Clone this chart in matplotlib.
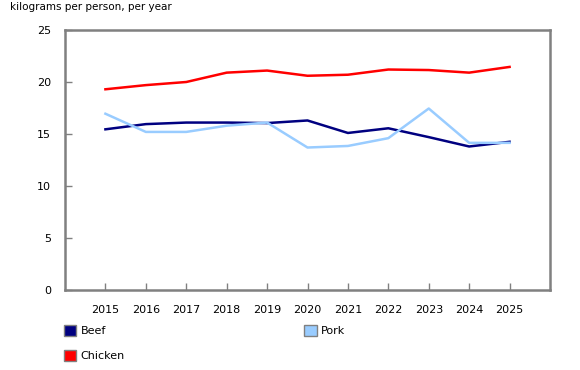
import matplotlib
matplotlib.use("Agg")
import matplotlib.pyplot as plt
from matplotlib.patches import Patch

years = [2015, 2016, 2017, 2018, 2019, 2020, 2021, 2022, 2023, 2024, 2025]
beef = [15.45, 15.95, 16.1, 16.1, 16.05, 16.3, 15.1, 15.55, 14.7, 13.8, 14.25]
pork = [16.95, 15.2, 15.2, 15.8, 16.1, 13.7, 13.85, 14.6, 17.45, 14.15, 14.15]
chicken = [19.3, 19.7, 20.0, 20.9, 21.1, 20.6, 20.7, 21.2, 21.15, 20.9, 21.45]
yticks = [0, 5, 10, 15, 20, 25]
ylabel = "kilograms per person, per year"

c_beef = "#000080"
c_pork = "#99ccff"
c_chicken = "#ff0000"
grey = "#808080"

plt.rcParams['font.family'] = ['DejaVu Sans']
fig = plt.figure(figsize=(5.8, 3.7), dpi=100)
ax = fig.add_axes([65/580, 1-290/370, 485/580, 260/370])

ax.plot(years, beef, color=c_beef, lw=1.8)
ax.plot(years, pork, color=c_pork, lw=1.8)
ax.plot(years, chicken, color=c_chicken, lw=1.8)

ax.set_xlim(2014, 2026)
ax.set_ylim(0, 25)
ax.set_xticks(years)
ax.set_yticks(yticks)
ax.tick_params(axis='both', direction='in', length=5, width=1, colors=grey,
               labelcolor='black', labelsize=8)
ax.tick_params(axis='x', pad=11)
ax.tick_params(axis='y', pad=10)
for s in ax.spines.values():
    s.set_color(grey)
    s.set_linewidth(1.8)

fig.text(10/580, 1-7/370, ylabel, fontsize=7.5, va='center', ha='left')

handles = [Patch(facecolor=c_beef, edgecolor=grey, label='Beef'),
           Patch(facecolor=c_chicken, edgecolor=grey, label='Chicken'),
           Patch(facecolor=c_pork, edgecolor=grey, label='Pork')]
fig.legend(handles=handles, ncol=2, loc='upper left',
           bbox_to_anchor=(54/580, 1-315/370), frameon=False, fontsize=8,
           handlelength=1.1, handleheight=1.1, handletextpad=0.4,
           columnspacing=16.15, labelspacing=1.27)

fig.savefig("out.png", dpi=100)
